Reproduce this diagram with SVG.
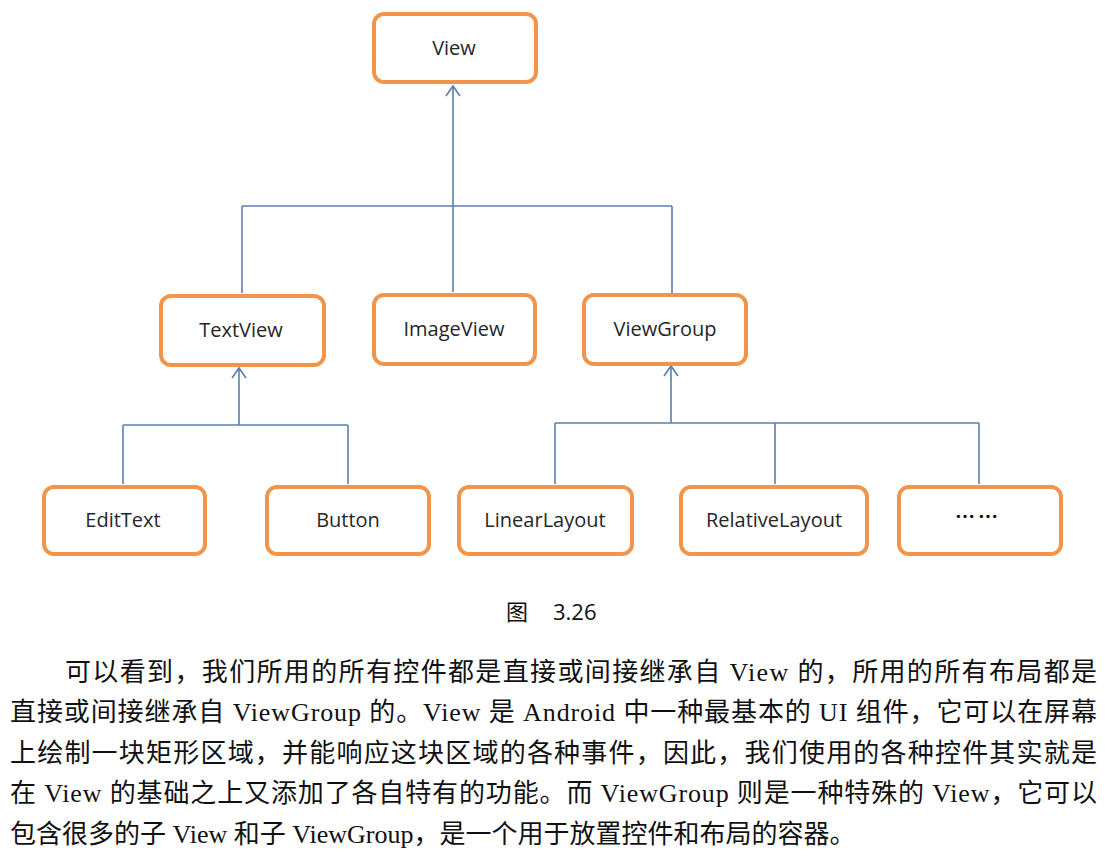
<svg xmlns="http://www.w3.org/2000/svg" width="1106" height="858" viewBox="0 0 1106 858">
<defs>
<style>
.node rect{fill:#ffffff;stroke:#F0954B;stroke-width:4}
.node text{font-family:"Open Sans","Noto Sans",sans-serif;font-size:20px;fill:#262626;text-anchor:middle}
.node text.dots{font-family:"Noto Sans CJK SC",sans-serif;font-weight:bold;fill:#111;letter-spacing:3px}
.conn path{fill:none;stroke:#5A7FAE;stroke-width:1.6}
.para{font-family:"Liberation Serif","Noto Sans CJK SC",serif;font-size:26px;fill:#111}
.cap{font-family:"Open Sans","Noto Sans CJK SC",sans-serif;font-size:22px;fill:#111}
</style>
</defs>
<rect width="1106" height="858" fill="#ffffff"/>
<g class="conn" id="connectors">
<path d="M453 206 V86"/>
<path d="M242 206 H672"/>
<path d="M242 206 V293"/>
<path d="M453 206 V292"/>
<path d="M672 206 V293"/>
<path d="M239 425 V368"/>
<path d="M123 425 H348"/>
<path d="M123 425 V484"/>
<path d="M348 425 V484"/>
<path d="M671 423 V366"/>
<path d="M555 423 H979"/>
<path d="M555 423 V484"/>
<path d="M775 423 V484"/>
<path d="M979 423 V484"/>
<path d="M446 96 L453 86 L460 96"/>
<path d="M232 378 L239 368 L246 378"/>
<path d="M664 376 L671 366 L678 376"/>
</g>
<g class="node" id="n-view"><rect x="374" y="14" width="162" height="68" rx="10"/><text x="454" y="55">View</text></g>
<g class="node" id="n-textview"><rect x="161" y="296" width="163" height="69" rx="10"/><text x="241" y="337">TextView</text></g>
<g class="node" id="n-imageview"><rect x="374" y="295" width="161" height="69" rx="10"/><text x="454" y="336">ImageView</text></g>
<g class="node" id="n-viewgroup"><rect x="584" y="295" width="162" height="69" rx="10"/><text x="665" y="336">ViewGroup</text></g>
<g class="node" id="n-edittext"><rect x="44" y="487" width="161" height="67" rx="10"/><text x="123" y="527">EditText</text></g>
<g class="node" id="n-button"><rect x="267" y="487" width="162" height="67" rx="10"/><text x="348" y="527">Button</text></g>
<g class="node" id="n-linearlayout"><rect x="459" y="487" width="173" height="67" rx="10"/><text x="545" y="527">LinearLayout</text></g>
<g class="node" id="n-relativelayout"><rect x="681" y="487" width="186" height="67" rx="10"/><text x="774" y="527">RelativeLayout</text></g>
<g class="node" id="n-more"><rect x="899" y="487" width="162" height="67" rx="10"/><text class="dots" x="978" y="524">……</text></g>
<g id="caption">
<text class="cap" x="506" y="620">图</text>
<text class="cap" x="553" y="620">3.26</text>
</g>
<g id="paragraph">
<text class="para" x="65" y="681" textLength="1032" lengthAdjust="spacing">可以看到，我们所用的所有控件都是直接或间接继承自 View 的，所用的所有布局都是</text>
<text class="para" x="10" y="721" textLength="1087" lengthAdjust="spacing">直接或间接继承自 ViewGroup 的。View 是 Android 中一种最基本的 UI 组件，它可以在屏幕</text>
<text class="para" x="10" y="762" textLength="1087" lengthAdjust="spacing">上绘制一块矩形区域，并能响应这块区域的各种事件，因此，我们使用的各种控件其实就是</text>
<text class="para" x="10" y="802" textLength="1087" lengthAdjust="spacing">在 View 的基础之上又添加了各自特有的功能。而 ViewGroup 则是一种特殊的 View，它可以</text>
<text class="para" x="10" y="843">包含很多的子 View 和子 ViewGroup，是一个用于放置控件和布局的容器。</text>
</g>
</svg>
